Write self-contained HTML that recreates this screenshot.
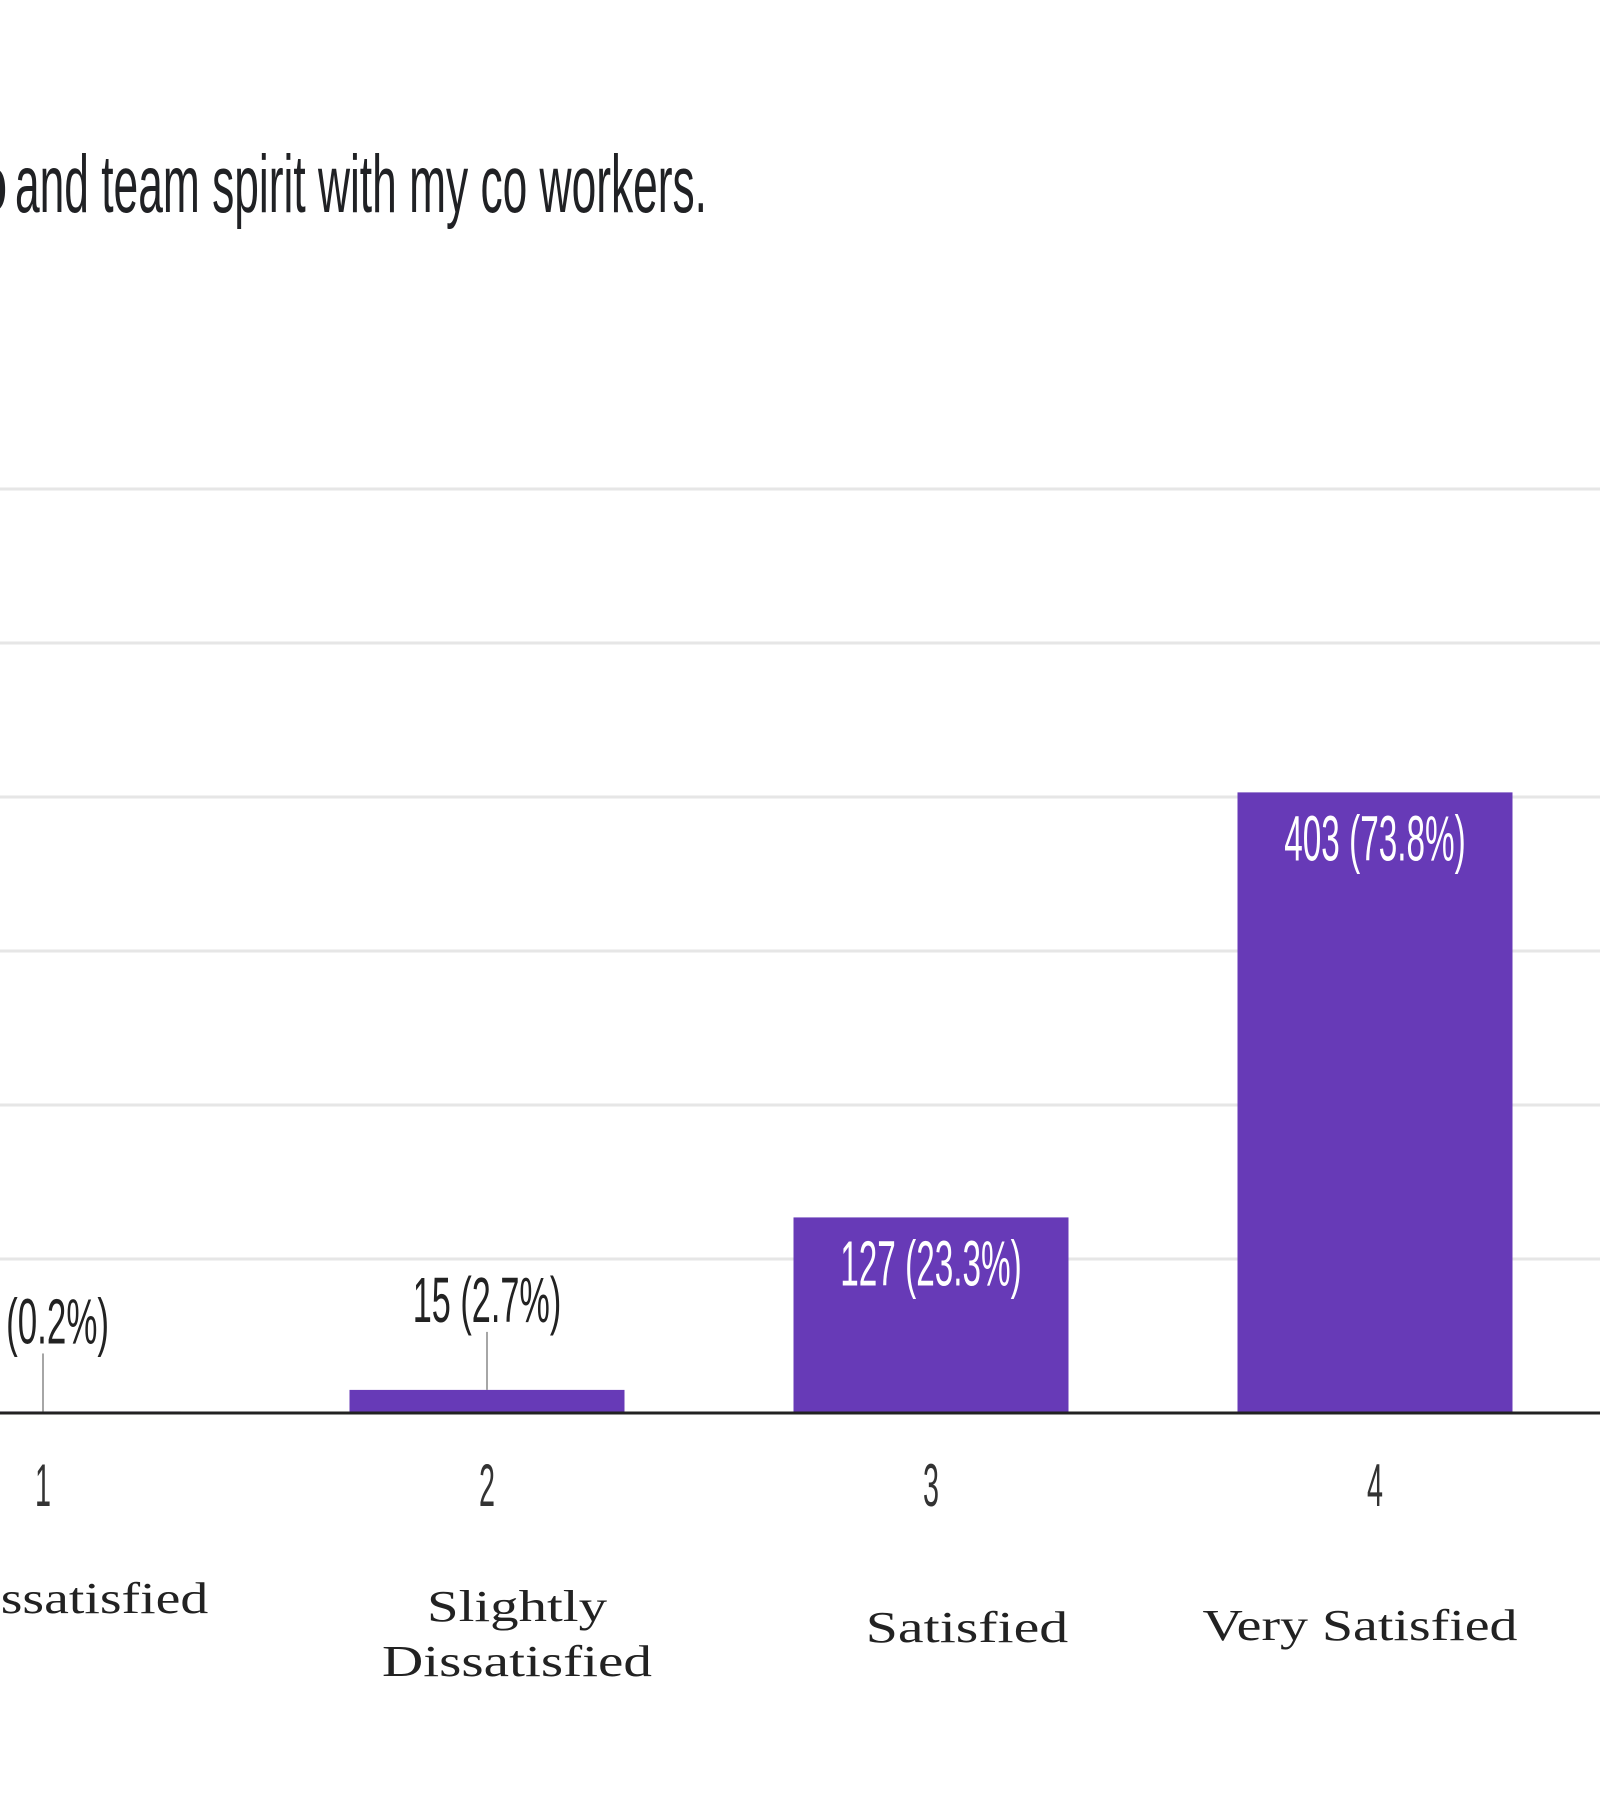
<!DOCTYPE html>
<html><head><meta charset="utf-8"><style>
html,body{margin:0;padding:0;background:#fff;width:1600px;height:1800px;overflow:hidden}
</style></head><body>
<svg id="chart" width="1600" height="1800" xmlns="http://www.w3.org/2000/svg" font-family="Liberation Sans, sans-serif">
<text x="-30" y="212" font-size="84" fill="#202124" textLength="38" lengthAdjust="spacingAndGlyphs">o</text>
<text x="15" y="212" font-size="82" fill="#202124" textLength="692" lengthAdjust="spacingAndGlyphs">and team spirit with my co workers.</text>
<g id="grid"></g><g id="bars"></g><g id="labels"></g>
</svg>
<script>
const categories = ["1","2","3","4"];
const categoryNames = [["Very Dissatisfied"],["Slightly","Dissatisfied"],["Satisfied"],["Very Satisfied"]];
const values = [1, 15, 127, 403];
const valueLabels = ["1 (0.2%)","15 (2.7%)","127 (23.3%)","403 (73.8%)"];
const gridTicks = [100,200,300,400,500,600];

const NS="http://www.w3.org/2000/svg";
const y0=1413, perUnit=154/100;
const y=v=>y0-v*perUnit;
const x=i=>43+i*444;
const barW=275;
function mk(tag,attrs,parent,txt){const e=document.createElementNS(NS,tag);for(const k in attrs)e.setAttribute(k,attrs[k]);if(txt!==undefined)e.textContent=txt;parent.appendChild(e);return e;}
const grid=document.getElementById('grid'),bars=document.getElementById('bars'),labels=document.getElementById('labels');
gridTicks.forEach(t=>{
  const l=mk('line',{x1:0,x2:1600,y1:y(t),y2:y(t),stroke:'#e6e6e6','stroke-width':3},grid);
  
  
});
values.forEach((v,i)=>{
  const cx=x(i);
  const r=mk('rect',{x:cx-barW/2,y:y(v),width:barW,height:y0-y(v),fill:'#673ab7'},bars);
  
  
  const inside=(y0-y(v))>100;
  const lw=valueLabels[i].length*16.5;
  let ty;
  if(inside){ty=y(v)+68;}
  else{
    ty=y(v)-68;
    const ld=mk('line',{x1:cx,x2:cx,y1:ty+10,y2:y(v),stroke:'#888','stroke-width':1.5},labels);
    
    
  }
  const t=mk('text',{x:cx-lw/2,y:ty,'font-size':64,fill:inside?'#fff':'#222',textLength:lw,lengthAdjust:'spacingAndGlyphs'},labels,valueLabels[i]);
  
  
  const tk=mk('text',{x:cx-8,y:1506,'font-size':60,fill:'#333',textLength:16,lengthAdjust:'spacingAndGlyphs'},labels,categories[i]);
  
  
  const names=categoryNames[i];
  const cxs=[17,517,967,1360][i];
  const bys=names.length>1?[1621,1676]:[[1613,0,1642,1640][i]];
  names.forEach((n,j)=>{
    const w=n.length*22.5;
    const c=mk('text',{x:cxs-w/2,y:bys[j],'font-size':44,'font-family':'Liberation Serif, serif',fill:'#222',textLength:w,lengthAdjust:'spacingAndGlyphs'},labels,n);
    
    
  });
});
const ax=mk('line',{x1:0,x2:1600,y1:y0,y2:y0,stroke:'#222','stroke-width':3},labels);


</script>
</body></html>
